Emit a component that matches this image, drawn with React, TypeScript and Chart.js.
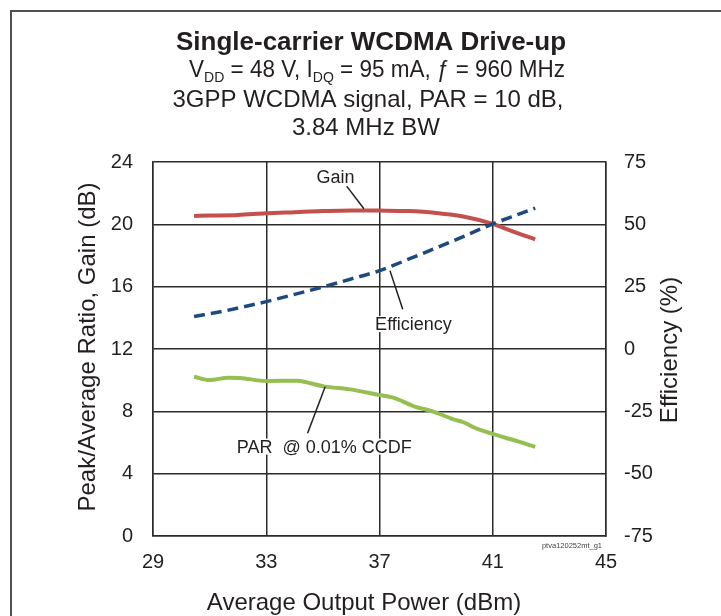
import React, { useEffect, useRef } from "react";
import { Chart, registerables } from "chart.js";

Chart.register(...registerables);

// ---------- data ----------
const xTickValues = [29, 33, 37, 41, 45];
const leftTickValues = [0, 4, 8, 12, 16, 20, 24];
const rightTickValues = [-75, -50, -25, 0, 25, 50, 75];

const gainPower = [30.45, 31.0, 32.0, 33.0, 34.0, 35.0, 36.0, 37.0, 38.0, 39.0, 40.0, 41.0, 41.7, 42.5];
const gainDb = [20.54, 20.56, 20.6, 20.71, 20.78, 20.85, 20.89, 20.88, 20.85, 20.73, 20.49, 20.03, 19.55, 19.04];

const effPower = [30.45, 31.5, 33.0, 34.0, 35.0, 36.0, 37.0, 38.0, 39.0, 40.0, 41.0, 42.0, 42.5];
const effPct = [13.0, 15.2, 19.0, 21.9, 24.9, 28.1, 31.4, 35.9, 40.5, 45.3, 50.2, 54.4, 56.5];

const parPower = [30.45, 31.0, 31.66, 32.07, 33.0, 34.08, 34.43, 35.04, 35.96, 37.0, 37.49, 38.2, 38.9, 39.61, 39.97, 40.32, 41.0, 41.73, 42.5];
const parDb = [10.22, 10.01, 10.16, 10.14, 9.95, 9.97, 9.86, 9.6, 9.41, 9.05, 8.88, 8.34, 7.98, 7.49, 7.3, 6.98, 6.55, 6.16, 5.72];

// ---------- style ----------
const FONT = "'Liberation Sans', Arial, Helvetica, sans-serif";
const TEXT = "#231f20";
const GRID = "#2b2b2b";

// annotation labels in data coordinates (x: dBm, y: left axis dB)
const annotations = [
  { text: "Gain", x: 35.45, y: 22.63, from: [35.84, 22.45], to: [36.45, 21.0] },
  { text: "Efficiency", x: 38.2, y: 13.22, from: [37.37, 17.03], to: [37.82, 14.55] },
  { text: "PAR  @ 0.01% CCDF", x: 35.05, y: 5.35, from: [35.08, 9.58], to: [34.46, 6.59] },
];

const decoPlugin = {
  id: "deco",
  beforeDraw(chart: any) {
    const ctx = chart.ctx as CanvasRenderingContext2D;
    ctx.save();
    ctx.fillStyle = "#ffffff";
    ctx.fillRect(0, 0, chart.width, chart.height);
    ctx.strokeStyle = "#505050";
    ctx.lineWidth = 2;
    ctx.beginPath();
    ctx.moveTo(11, chart.height + 5);
    ctx.lineTo(11, 11);
    ctx.lineTo(chart.width + 5, 11);
    ctx.stroke();
    ctx.restore();
  },
  afterDraw(chart: any) {
    const ctx = chart.ctx as CanvasRenderingContext2D;
    const xs = chart.scales.x;
    const ys = chart.scales.y;
    ctx.save();

    // annotations
    ctx.font = `18px ${FONT}`;
    ctx.textAlign = "center";
    ctx.textBaseline = "alphabetic";
    for (const a of annotations) {
      ctx.strokeStyle = TEXT;
      ctx.lineWidth = 1.5;
      ctx.beginPath();
      ctx.moveTo(xs.getPixelForValue(a.from[0]), ys.getPixelForValue(a.from[1]));
      ctx.lineTo(xs.getPixelForValue(a.to[0]), ys.getPixelForValue(a.to[1]));
      ctx.stroke();
      const px = xs.getPixelForValue(a.x);
      const py = ys.getPixelForValue(a.y);
      const w = ctx.measureText(a.text).width;
      ctx.fillStyle = "#ffffff";
      ctx.fillRect(px - w / 2 - 1, py - 14, w + 2, 16);
      ctx.fillStyle = TEXT;
      ctx.fillText(a.text, px, py);
    }

    // title
    const cx = 370;
    ctx.fillStyle = TEXT;
    ctx.textAlign = "center";
    ctx.font = `bold 26px ${FONT}`;
    ctx.fillText("Single-carrier WCDMA Drive-up", cx + 1, 50);

    // line 2 with subscripts (slightly condensed to match the reference width)
    const main = `24px ${FONT}`;
    const sub = `15px ${FONT}`;
    const segs = [
      { t: "V", s: false },
      { t: "DD", s: true },
      { t: " = 48 V, I", s: false },
      { t: "DQ", s: true },
      { t: " = 95 mA, ", s: false },
      { t: "\u0192", s: false },
      { t: " = 960 MHz", s: false },
    ];
    let total = 0;
    for (const sg of segs) {
      ctx.font = sg.s ? sub : main;
      total += ctx.measureText(sg.t).width;
    }
    const squeeze = 376 / total;
    ctx.save();
    ctx.translate(cx + 7 - (total * squeeze) / 2, 0);
    ctx.scale(squeeze, 1);
    let x0 = 0;
    ctx.textAlign = "left";
    for (const sg of segs) {
      ctx.font = sg.s ? sub : main;
      ctx.fillText(sg.t, x0, sg.s ? 82 : 77);
      x0 += ctx.measureText(sg.t).width;
    }
    ctx.restore();

    ctx.textAlign = "center";
    ctx.font = `24px ${FONT}`;
    ctx.fillText("3GPP WCDMA signal, PAR = 10 dB,", cx - 2, 107);
    ctx.fillText("3.84 MHz BW", cx - 4, 135);

    // axis titles
    ctx.font = `24px ${FONT}`;
    ctx.fillText("Average Output Power (dBm)", 364, 610);

    ctx.save();
    ctx.translate(95, 347);
    ctx.rotate(-Math.PI / 2);
    ctx.fillText("Peak/Average Ratio, Gain (dB)", 0, 0);
    ctx.restore();

    ctx.save();
    ctx.translate(677, 350);
    ctx.rotate(-Math.PI / 2);
    ctx.fillText("Efficiency (%)", 0, 0);
    ctx.restore();

    // small figure id
    ctx.font = `7.5px ${FONT}`;
    ctx.textAlign = "right";
    ctx.fillStyle = "#444444";
    ctx.fillText("ptva120252mt_g1", 602, 548);

    ctx.restore();
  },
};

export default function App() {
  const ref = useRef<HTMLCanvasElement | null>(null);

  useEffect(() => {
    if (!ref.current) return;
    const tickFont = { family: FONT, size: 20 };
    const chart = new Chart(ref.current, {
      type: "line",
      data: {
        datasets: [
          {
            label: "Efficiency",
            data: effPower.map((x, i) => ({ x, y: effPct[i] })),
            yAxisID: "y1",
            borderColor: "#1d4a7e",
            borderWidth: 3.5,
            borderDash: [11, 6],
            pointRadius: 0,
            cubicInterpolationMode: "monotone",
            fill: false,
          },
          {
            label: "Gain",
            data: gainPower.map((x, i) => ({ x, y: gainDb[i] })),
            yAxisID: "y",
            borderColor: "#c4504d",
            borderWidth: 4,
            pointRadius: 0,
            cubicInterpolationMode: "monotone",
            fill: false,
          },
          {
            label: "PAR @ 0.01% CCDF",
            data: parPower.map((x, i) => ({ x, y: parDb[i] })),
            yAxisID: "y",
            borderColor: "#96bf52",
            borderWidth: 4,
            pointRadius: 0,
            cubicInterpolationMode: "monotone",
            fill: false,
          },
        ],
      },
      options: {
        responsive: false,
        maintainAspectRatio: false,
        animation: false,
        devicePixelRatio: 1,
        layout: { padding: { top: 162, left: 0, right: 0, bottom: 0 } },
        plugins: {
          legend: { display: false },
          tooltip: { enabled: false },
          title: { display: false },
        },
        scales: {
          x: {
            type: "linear",
            min: 29,
            max: 45,
            afterBuildTicks: (s: any) => {
              s.ticks = xTickValues.map((v) => ({ value: v }));
            },
            afterFit: (s: any) => {
              s.height = 80;
            },
            ticks: { font: tickFont, color: TEXT, padding: 14, maxRotation: 0, autoSkip: false },
            grid: { color: GRID, lineWidth: 1.5, drawTicks: false },
            border: { display: true, color: GRID, width: 1.5 },
          },
          y: {
            type: "linear",
            position: "left",
            min: 0,
            max: 24,
            afterBuildTicks: (s: any) => {
              s.ticks = leftTickValues.map((v) => ({ value: v }));
            },
            afterFit: (s: any) => {
              s.width = 153;
            },
            ticks: { font: tickFont, color: TEXT, padding: 20, autoSkip: false },
            grid: { color: GRID, lineWidth: 1.5, drawTicks: false },
            border: { display: true, color: GRID, width: 1.5 },
          },
          y1: {
            type: "linear",
            position: "right",
            min: -75,
            max: 75,
            afterBuildTicks: (s: any) => {
              s.ticks = rightTickValues.map((v) => ({ value: v }));
            },
            afterFit: (s: any) => {
              s.width = 115;
            },
            ticks: { font: tickFont, color: TEXT, padding: 18, autoSkip: false },
            grid: { display: false, drawTicks: false },
            border: { display: true, color: GRID, width: 1.5 },
          },
        },
      },
      plugins: [decoPlugin],
    } as any);
    return () => chart.destroy();
  }, []);

  return (
    <div style={{ position: "absolute", left: 0, top: 0, width: 721, height: 616, background: "#fff" }}>
      <canvas ref={ref} width={721} height={616} style={{ display: "block", width: 721, height: 616 }} />
    </div>
  );
}
